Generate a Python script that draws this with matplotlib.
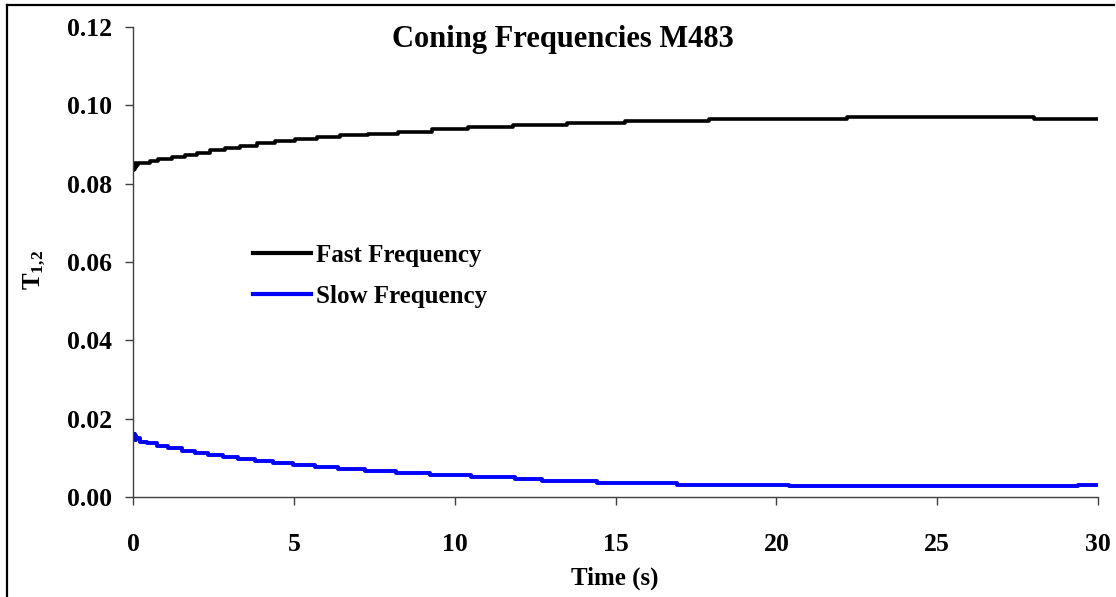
import matplotlib
matplotlib.use("Agg")
import matplotlib.pyplot as plt
from matplotlib.lines import Line2D

# ---- data ----
fast_t = [0, 0.02, 0.04, 0.06, 0.08, 0.10, 0.17, 0.53, 0.79, 1.20, 1.62,
          1.98, 2.39, 2.86, 3.33, 3.84, 4.41, 5.03, 5.71, 6.43, 7.31,
          8.24, 9.28, 10.4, 11.8, 13.5, 15.3, 17.9, 22.2, 28.0, 30.0]
fast_v = [0.0836, 0.0850, 0.0838, 0.0852, 0.0842, 0.0848, 0.0852, 0.0857, 0.0862, 0.0868, 0.0874,
          0.0879, 0.0885, 0.0891, 0.0897, 0.0903, 0.0908, 0.0913, 0.0918, 0.0923, 0.0928,
          0.0932, 0.0940, 0.0945, 0.0950, 0.0955, 0.0960, 0.0965, 0.0970, 0.0965, 0.0965]

slow_t = [0, 0.02, 0.04, 0.06, 0.08, 0.10, 0.22, 0.42, 0.74, 1.10, 1.51,
          1.93, 2.34, 2.81, 3.27, 3.79, 4.36, 4.98, 5.66, 6.38, 7.21,
          8.19, 9.23, 10.52, 11.87, 12.70, 14.41, 16.90, 20.4, 29.37, 30.0]
slow_v = [0.0162, 0.0148, 0.0160, 0.0146, 0.0155, 0.0150, 0.0141, 0.0137, 0.0130, 0.0124, 0.0118,
          0.0113, 0.0108, 0.0103, 0.0098, 0.0092, 0.0087, 0.0082, 0.0077, 0.0071, 0.0066,
          0.0062, 0.0056, 0.0052, 0.0046, 0.0041, 0.0037, 0.0031, 0.0027, 0.0031, 0.0031]

series_labels = ["Fast Frequency", "Slow Frequency"]
x_ticks = [0, 5, 10, 15, 20, 25, 30]
y_ticks = [0.00, 0.02, 0.04, 0.06, 0.08, 0.10, 0.12]
title = "Coning Frequencies M483"
x_label = "Time (s)"

plt.rcParams['font.family'] = ['Liberation Serif', 'DejaVu Serif']
plt.rcParams['font.weight'] = 'bold'
plt.rcParams['mathtext.fontset'] = 'custom'
plt.rcParams['mathtext.rm'] = 'Liberation Serif:bold'
plt.rcParams['mathtext.bf'] = 'Liberation Serif:bold'
plt.rcParams['mathtext.it'] = 'Liberation Serif:bold'

W, H = 1116, 597
fig = plt.figure(figsize=(W / 100, H / 100), dpi=100)
ax = fig.add_axes([133 / W, 1 - 497 / H, (1098 - 133) / W, (497 - 27) / H])

ax.step(fast_t, fast_v, where='post', color='black', lw=2.6, label=series_labels[0])
ax.step(slow_t, slow_v, where='post', color='#0000ff', lw=2.8, label=series_labels[1])

ax.set_xlim(0, 30)
ax.set_ylim(0, 0.12)
ax.set_xticks(x_ticks)
ax.set_xticklabels([str(v) for v in x_ticks])
ax.set_yticks(y_ticks)
ax.set_yticklabels([f"{v:.2f}" for v in y_ticks])
for s in ['top', 'right']:
    ax.spines[s].set_visible(False)
for s in ['left', 'bottom']:
    ax.spines[s].set_color('#404040')
    ax.spines[s].set_linewidth(1.0)
ax.tick_params(axis='both', direction='out', length=6, width=1.0, color='#404040',
               labelsize=18.5)
ax.tick_params(axis='x', pad=20)
ax.tick_params(axis='y', pad=9)
for lbl in ax.get_xticklabels() + ax.get_yticklabels():
    lbl.set_fontweight('bold')

leg = ax.legend(loc='center left', bbox_to_anchor=((253 - 133) / 965, (497 - 276) / 470),
                frameon=False, fontsize=18, handlelength=2.3, handletextpad=0.2,
                labelspacing=0.72, borderpad=0, borderaxespad=0)
for t in leg.get_texts():
    t.set_fontweight('bold')
for h in leg.get_lines():
    h.set_linewidth(3.0)

fig.text(563 / W, 1 - 40 / H, title, ha='center', va='center', fontsize=22, fontweight='bold')
fig.text(615 / W, 1 - 578 / H, x_label, ha='center', va='center', fontsize=18, fontweight='bold')
fig.text(35 / W, 1 - 270 / H, r'$\mathbf{T_{1{,}2}}$', ha='center', va='center', rotation=90,
         fontsize=18)

# figure border (top and left visible in the reference)
fig.add_artist(Line2D([7 / W, 7 / W], [0, 1 - 5 / H], transform=fig.transFigure,
                      color='black', lw=1.6))
fig.add_artist(Line2D([7 / W, 1114 / W], [1 - 5 / H, 1 - 5 / H], transform=fig.transFigure,
                      color='black', lw=1.6))

fig.savefig("out.png", dpi=100)
